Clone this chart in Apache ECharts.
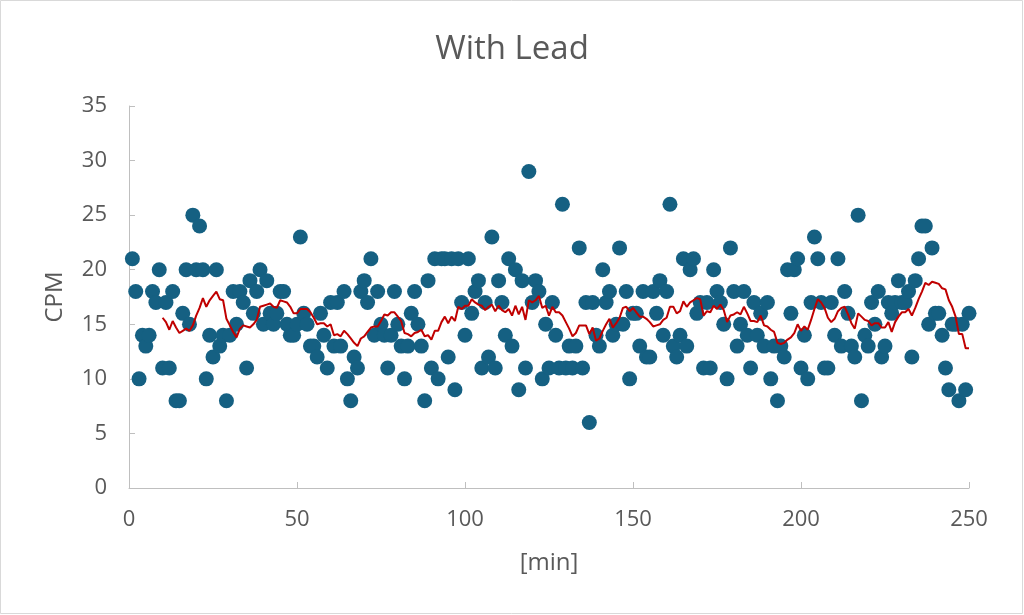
<!DOCTYPE html>
<html>
<head>
<meta charset="utf-8">
<script src="https://cdn.jsdelivr.net/npm/echarts@6/dist/echarts.min.js"></script>
<style>
  html, body { margin: 0; padding: 0; background: #ffffff; }
  #chart { width: 1024px; height: 615px; }
</style>
</head>
<body>
<div id="chart"></div>
<script>
// ---- data ----
const chartTitle = 'With Lead';
const xAxisName = '[min]';
const yAxisName = 'CPM';
const startMinute = 1;        // first sample is at minute 1, one sample per minute
const maPeriod = 10;          // moving-average trendline period
const xTicks = [0, 50, 100, 150, 200, 250];
const yTicks = [0, 5, 10, 15, 20, 25, 30, 35];
const cpm = [
  21, 18, 10, 14, 13, 14, 18, 17, 20, 11,   // 1-10
  17, 11, 18,  8,  8, 16, 20, 15, 25, 20,   // 11-20
  24, 20, 10, 14, 12, 20, 13, 14,  8, 14,   // 21-30
  18, 15, 18, 17, 11, 19, 16, 18, 20, 15,   // 31-40
  19, 16, 15, 16, 18, 18, 15, 14, 14, 15,   // 41-50
  23, 16, 15, 13, 13, 12, 16, 14, 11, 17,   // 51-60
  13, 17, 13, 18, 10,  8, 12, 11, 18, 19,   // 61-70
  17, 21, 14, 18, 15, 14, 11, 14, 18, 15,   // 71-80
  13, 10, 13, 16, 18, 15, 13,  8, 19, 11,   // 81-90
  21, 10, 21, 21, 12, 21,  9, 21, 17, 14,   // 91-100
  21, 16, 18, 19, 11, 17, 12, 23, 11, 19,   // 101-110
  17, 14, 21, 13, 20,  9, 19, 11, 29, 17,   // 111-120
  19, 18, 10, 15, 11, 17, 14, 11, 26, 11,   // 121-130
  13, 11, 13, 22, 11, 17,  6, 17, 14, 13,   // 131-140
  20, 17, 18, 14, 15, 22, 15, 18, 10, 16,   // 141-150
  16, 13, 18, 12, 12, 18, 16, 19, 14, 18,   // 151-160
  26, 13, 12, 14, 21, 13, 20, 21, 16, 17,   // 161-170
  11, 17, 11, 20, 18, 17, 15, 10, 22, 18,   // 171-180
  13, 15, 18, 14, 11, 17, 14, 16, 13, 17,   // 181-190
  10, 13,  8, 13, 12, 20, 16, 20, 21, 11,   // 191-200
  14, 10, 17, 23, 21, 17, 11, 11, 17, 14,   // 201-210
  21, 13, 18, 16, 13, 12, 25,  8, 14, 13,   // 211-220
  17, 15, 18, 12, 13, 17, 16, 17, 19, 17,   // 221-230
  17, 18, 12, 19, 21, 24, 24, 15, 22, 16,   // 231-240
  16, 14, 11,  9, 15, 15,  8, 15,  9, 16    // 241-250
];

// ---- build series ----
const points = cpm.map((v, i) => [startMinute + i, v]);
// Excel-style moving-average trendline of the plotted data
const trend = [];
for (let i = maPeriod - 1; i < cpm.length; i++) {
  let s = 0;
  for (let k = i - maPeriod + 1; k <= i; k++) s += cpm[k];
  trend.push([startMinute + i, s / maPeriod]);
}

const FONT = '"Open Sans", "Liberation Sans", sans-serif';
const TXT = '#595959';
const AXIS = '#bfbfbf';

const chart = echarts.init(document.getElementById('chart'), null, { renderer: 'canvas' });
chart.setOption({
  animation: false,
  backgroundColor: '#ffffff',
  textStyle: { fontFamily: FONT },
  title: {
    text: chartTitle,
    left: 'center',
    top: 28,
    textStyle: { fontFamily: FONT, fontSize: 33, fontWeight: 'normal', color: TXT }
  },
  graphic: [{
    type: 'rect',
    shape: { x: 0.5, y: 0.5, width: 1022, height: 613 },
    style: { fill: 'none', stroke: '#d9d9d9', lineWidth: 1 },
    silent: true
  }],
  grid: { left: 129, right: 55, top: 106, bottom: 127, containLabel: false },
  xAxis: {
    type: 'value',
    min: xTicks[0],
    max: xTicks[xTicks.length - 1],
    interval: xTicks[1] - xTicks[0],
    name: xAxisName,
    nameLocation: 'middle',
    nameGap: 63,
    nameTextStyle: { fontFamily: FONT, fontSize: 24, color: TXT },
    axisLine: { show: true, onZero: false, lineStyle: { color: AXIS, width: 1 } },
    axisTick: { show: true, inside: true, length: 6, lineStyle: { color: AXIS } },
    splitLine: { show: false },
    axisLabel: { fontFamily: FONT, fontSize: 22, color: TXT, margin: 21 }
  },
  yAxis: {
    type: 'value',
    min: yTicks[0],
    max: yTicks[yTicks.length - 1],
    interval: yTicks[1] - yTicks[0],
    name: yAxisName,
    nameLocation: 'middle',
    nameRotate: 90,
    nameGap: 62,
    nameTextStyle: { fontFamily: FONT, fontSize: 24, color: TXT },
    axisLine: { show: true, onZero: false, lineStyle: { color: AXIS, width: 1 } },
    axisTick: { show: true, inside: true, length: 6, lineStyle: { color: AXIS } },
    splitLine: { show: false },
    axisLabel: { fontFamily: FONT, fontSize: 22, color: TXT, margin: 22 }
  },
  series: [
    {
      name: 'CPM',
      type: 'scatter',
      data: points,
      symbol: 'circle',
      symbolSize: 15,
      itemStyle: { color: '#156082', opacity: 1 },
      z: 2
    },
    {
      name: '10 per. Mov. Avg.',
      type: 'line',
      data: trend,
      showSymbol: false,
      symbol: 'none',
      lineStyle: { color: '#C00000', width: 2 },
      itemStyle: { color: '#C00000' },
      z: 3
    }
  ]
});
</script>
</body>
</html>
